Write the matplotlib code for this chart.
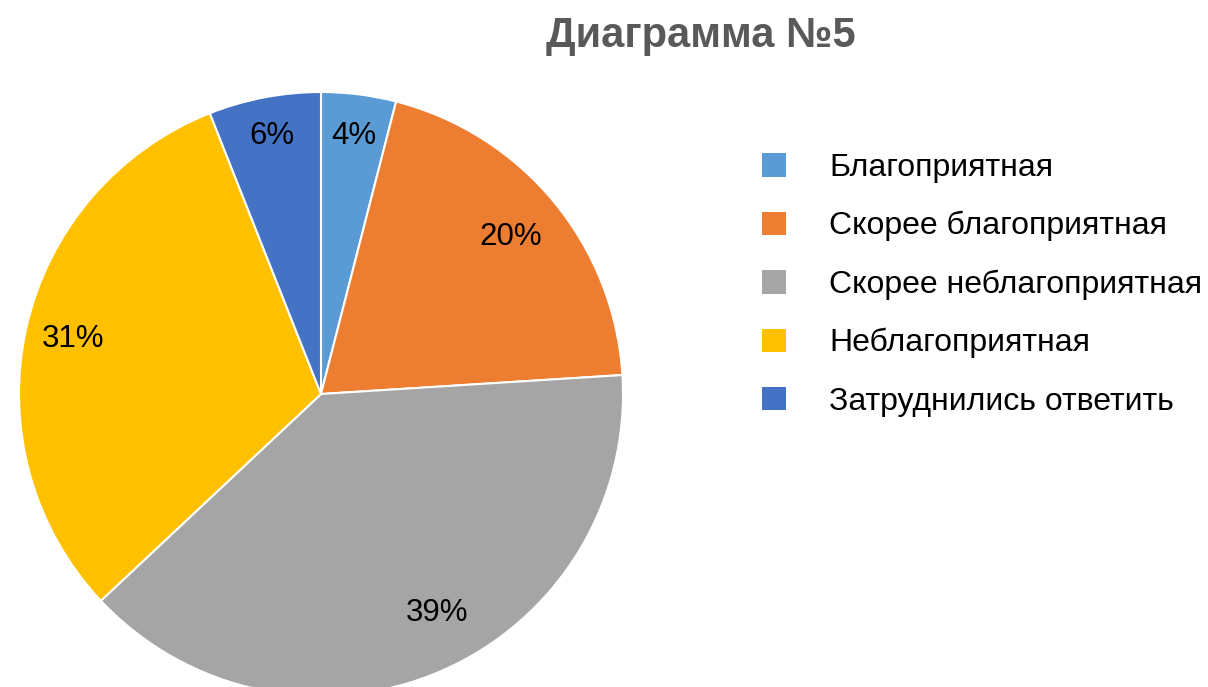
import matplotlib.pyplot as plt
from matplotlib.patches import Patch
import numpy as np

# data
categories = ["Благоприятная", "Скорее благоприятная", "Скорее неблагоприятная",
              "Неблагоприятная", "Затруднились ответить"]
shares = [4, 20, 39, 31, 6]
colors = ["#5B9BD5", "#ED7D31", "#A5A5A5", "#FFC000", "#4472C4"]
# where each percentage sits: distance from centre and turn off the wedge middle (deg)
label_radii = [0.86, 0.815, 0.82, 0.84, 0.87]
label_turn = [0, 0, 4.5, 0, 0]

plt.rcParams['font.family'] = ['Liberation Sans', 'DejaVu Sans']

fig = plt.figure(figsize=(12.08, 6.87), dpi=100)
ax = fig.add_axes([19 / 1208, -9 / 687, 604 / 1208, 604 / 687])

wedges, texts, autotexts = ax.pie(
    shares, colors=colors, startangle=90, counterclock=False,
    autopct=lambda p: f"{p:.0f}%", pctdistance=0.83,
    wedgeprops=dict(edgecolor="white", linewidth=1.5),
    textprops=dict(fontsize=22.5, color="black"))

for w, t, r, d in zip(wedges, autotexts, label_radii, label_turn):
    ang = np.deg2rad((w.theta1 + w.theta2) / 2 + d)
    t.set_position((r * np.cos(ang), r * np.sin(ang)))

ax.set_xlim(-1, 1)
ax.set_ylim(-1, 1)
ax.set_aspect("equal")
ax.axis("off")

fig.text(0.58, 0.947, "Диаграмма №5", ha="center", va="center",
         fontsize=30, fontweight="bold", color="#595959")

handles = [Patch(facecolor=c, edgecolor="none") for c in colors]
fig.legend(handles, categories, loc="upper left", bbox_to_anchor=(762 / 1208, 1 - 153 / 687),
           frameon=False, fontsize=23, handlelength=0.75, handleheight=0.75,
           handletextpad=1.35, labelspacing=0.88, borderpad=0, borderaxespad=0)

fig.savefig("out.png", dpi=100)
